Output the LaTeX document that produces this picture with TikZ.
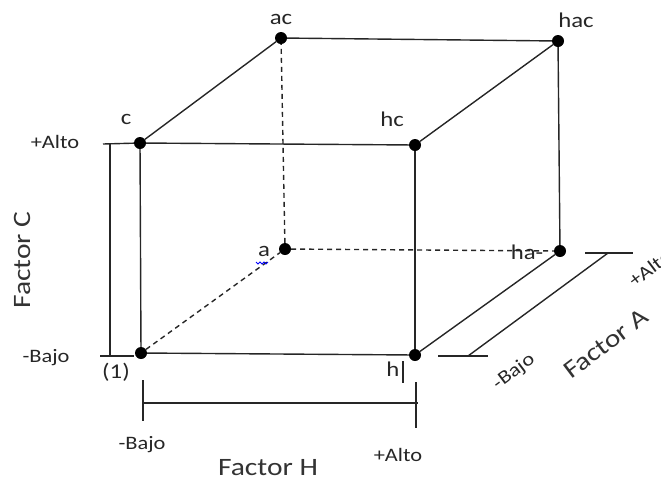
\documentclass[tikz,border=0pt]{standalone}
\usepackage{fontspec}
\setmainfont{Carlito}[FakeStretch=1.18]
\begin{document}
\begin{tikzpicture}[x=1pt,y=-1pt,
  vtx/.style={circle,fill=black,inner sep=0pt,minimum size=12pt},
  edge/.style={line width=1.4pt,draw=black!85},
  hid/.style={line width=1.4pt,draw=black!85,dash pattern=on 5pt off 4pt},
  axisln/.style={line width=1.4pt,draw=black!85},
  lbl/.style={font=\fontsize{21}{21}\selectfont,inner sep=0pt,text=black!85},
  slbl/.style={font=\fontsize{19}{19}\selectfont,inner sep=0pt,text=black!85},
  flbl/.style={font=\fontsize{25}{25}\selectfont,inner sep=0pt,text=black!80}]
\useasboundingbox (0,0) rectangle (661,483);
% vertices
\node[vtx] (c) at (140,143) {};
\node[vtx] (hc) at (415,145) {};
\node[vtx] (ac) at (281,38) {};
\node[vtx] (hac) at (558,41) {};
\node[vtx] (o) at (141,353) {};
\node[vtx] (h) at (415,355) {};
\node[vtx] (a) at (285,249) {};
\node[vtx] (ha) at (560,251) {};
% hidden edges
\draw[hid] (o) -- (a);
\draw[hid] (a) -- (ha);
\draw[hid] (a) -- (ac);
% solid edges
\draw[edge] (c) -- (hc);
\draw[edge] (c) -- (ac);
\draw[edge] (ac) -- (hac);
\draw[edge] (hc) -- (hac);
\draw[edge] (c) -- (o);
\draw[edge] (hc) -- (h);
\draw[edge] (o) -- (h);
\draw[edge] (h) -- (ha);
\draw[edge] (hac) -- (ha);
% vertex labels
\node[lbl] (lac) at (281,19) {ac};
\node[lbl] (lhac) at (576,20) {hac};
\node[lbl] (lc) at (126,119) {c};
\node[lbl] (lhc) at (392,119) {hc};
\node[lbl] (la) at (264,251) {a};
\node[lbl] (lha) at (527,252) {ha-};
\node[lbl] (lo) at (116,372) {(1)};
\node[lbl] (lh) at (393,369) {h};
\draw[line width=1.2pt,black!85] (403,361) -- (403,383);
\draw[blue,line width=0.9pt] (256,262) -- (258,264) -- (260,262) -- (262,264) -- (264,262) -- (266,264) -- (268,262);
% Factor C axis
\coordinate (cTl) at (103,144);
\coordinate (cBl) at (100,356);
\coordinate (cBr) at (134,356);
\coordinate (cVt) at (110,144);
\coordinate (cVb) at (110,356);
\draw[axisln] (cTl) -- (c);
\draw[axisln] (cVt) -- (cVb);
\draw[axisln] (cBl) -- (cBr);
\node[slbl] (cAlto) at (55,142) {+Alto};
\node[slbl] (cBajo) at (46,358) {-Bajo};
\node[flbl,rotate=90] (fC) at (22,260) {Factor\ C};
% Factor H axis
\coordinate (hL) at (143,403);
\coordinate (hR) at (418,403);
\coordinate (hLt) at (143,380);
\coordinate (hLb) at (143,421);
\coordinate (hRt) at (416,382);
\coordinate (hRb) at (416,428);
\draw[axisln] (hL) -- (hR);
\draw[axisln] (hLt) -- (hLb);
\draw[axisln] (hRt) -- (hRb);
\node[slbl] (hBajo) at (142,445) {-Bajo};
\node[slbl] (hAlto) at (398,455) {+Alto};
\node[flbl] (fH) at (268,468) {Factor\ H};
% Factor A axis
\coordinate (aB) at (468,356);
\coordinate (aT) at (608,253);
\coordinate (aTl) at (585,253);
\coordinate (aTr) at (633,253);
\coordinate (aBl) at (438,356);
\coordinate (aBr) at (488,356);
\draw[axisln] (aB) -- (aT);
\draw[axisln] (aTl) -- (aTr);
\draw[axisln] (aBl) -- (aBr);
\node[slbl,rotate=37] (aAlto) at (650,268) {+Alto};
\node[slbl,rotate=37] (aBajo) at (514,372) {-Bajo};
\node[flbl,rotate=37] (fA) at (606,344) {Factor A};
\end{tikzpicture}
\end{document}
